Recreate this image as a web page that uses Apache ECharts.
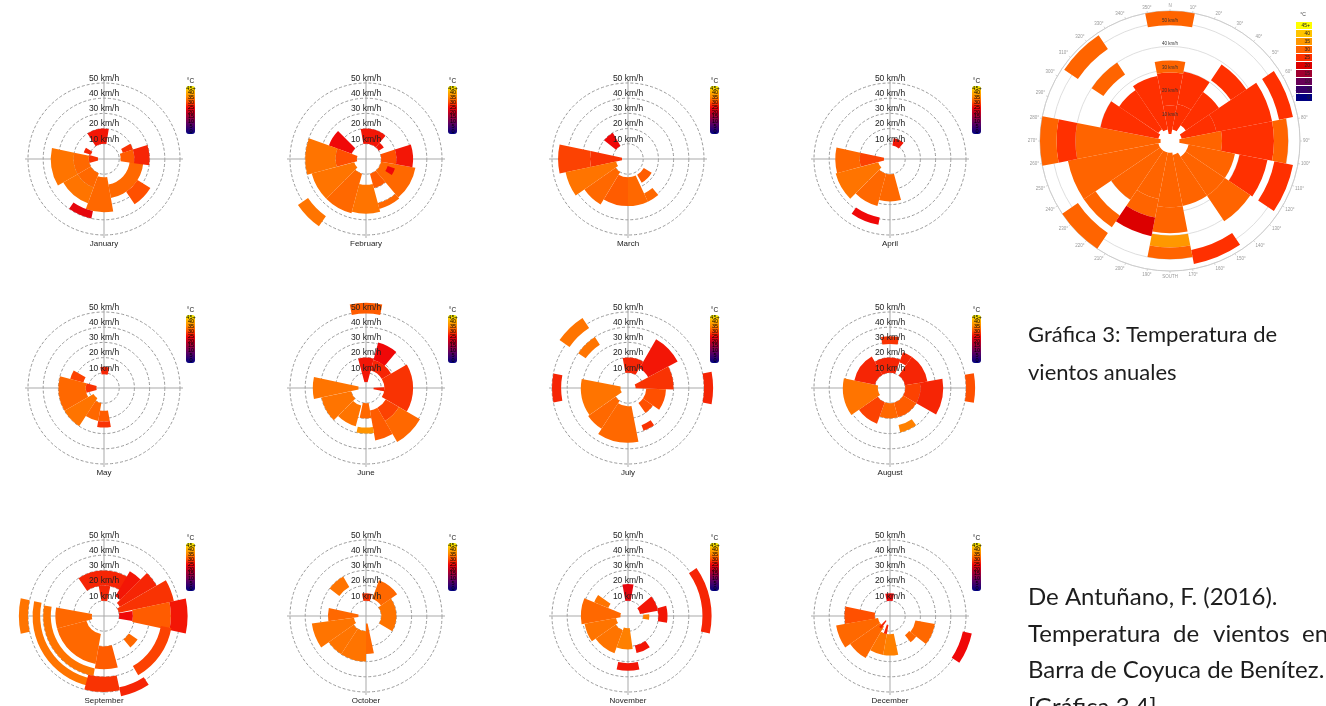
<!DOCTYPE html>
<html lang="es">
<head>
<meta charset="UTF-8">
<title>Temperatura de vientos</title>
<script src="https://cdn.jsdelivr.net/npm/echarts@6.0.0/dist/echarts.min.js"></script>
<style>
  body, html { margin: 0; padding: 0; background: #ffffff; }
  #chart { width: 1326px; height: 706px; }
</style>
</head>
<body>
<div id="chart"></div>
<script>
// each cell: [dirFrom°, dirTo°, speedFrom km/h, speedTo km/h, temperature °C]
const jan = [
  [327, 369, 10, 20, 26], [288, 302, 9, 14, 27], [255, 285, 4, 10, 28],
  [240, 282, 10, 20, 32], [240, 282, 20, 35, 33], [200, 240, 10, 20, 32],
  [200, 240, 20, 31, 33], [170, 200, 12, 35, 32], [95, 170, 17, 26, 32],
  [122, 146, 26, 36, 30], [60, 72, 13, 20, 28], [72, 98, 11, 20, 31],
  [72, 98, 20, 30, 27], [192, 215, 35, 40, 24]
];
const feb = [
  [350, 400, 10, 20, 26], [40, 57, 10, 14, 26], [290, 315, 10, 26, 25],
  [255, 290, 6, 20, 30], [255, 290, 20, 40, 33], [225, 255, 8, 37, 33],
  [195, 225, 10, 37, 32], [165, 195, 17, 36, 33], [140, 165, 10, 20, 31],
  [140, 165, 30, 34, 32], [100, 140, 10, 33, 32], [108, 122, 15, 20, 25],
  [72, 100, 10, 20, 30], [72, 100, 20, 31, 26], [215, 236, 46, 54, 33]
];
const mar = [
  [308, 330, 10, 20, 25], [258, 282, 4, 25, 28], [258, 282, 25, 46, 29],
  [235, 258, 8, 42, 33], [211, 235, 10, 35, 32], [180, 211, 12, 31, 31],
  [155, 180, 12, 31, 32], [140, 155, 25, 31, 32], [120, 150, 12, 18, 31]
];
const apr = [
  [10, 40, 9, 14, 26], [255, 282, 4, 20, 29], [255, 282, 20, 36, 32],
  [225, 255, 8, 37, 33], [195, 225, 10, 32, 32], [165, 195, 10, 28, 32],
  [190, 215, 39, 44, 25]
];
const may = [
  [350, 375, 9, 14, 27], [285, 300, 14, 23, 29], [255, 285, 5, 12, 28],
  [240, 285, 12, 30, 32], [213, 240, 8, 30, 33], [190, 213, 10, 22, 32],
  [170, 190, 15, 22, 31], [170, 190, 22, 26, 28]
];
const jun = [
  [349, 371, 49, 56, 31], [15, 40, 19, 31, 25], [345, 375, 4, 20, 26],
  [15, 60, 12, 19, 27], [60, 120, 12, 31, 28], [88, 100, 5, 12, 27],
  [120, 150, 15, 25, 29], [120, 150, 25, 41, 32], [150, 170, 15, 35, 31],
  [170, 192, 26, 30, 36], [170, 192, 10, 20, 32], [258, 282, 5, 35, 33],
  [225, 258, 10, 30, 33], [195, 225, 12, 26, 33]
];
const jul = [
  [305, 327, 47, 55, 33], [305, 327, 34, 40, 33], [259, 281, 44, 50, 27],
  [79, 101, 50, 56, 27], [350, 390, 10, 20, 27], [30, 62, 15, 37, 26],
  [62, 92, 5, 30, 28], [235, 281, 5, 31, 33], [213, 235, 10, 32, 32],
  [169, 213, 12, 36, 32], [92, 125, 12, 25, 30], [125, 145, 12, 20, 30],
  [145, 160, 26, 30, 28]
];
const aug = [
  [350, 370, 29, 34, 28], [330, 380, 10, 20, 27], [20, 35, 18, 25, 27],
  [35, 80, 10, 25, 27], [80, 120, 10, 20, 29], [80, 120, 20, 35, 27],
  [80, 100, 50, 56, 30], [120, 165, 10, 20, 31], [145, 167, 25, 30, 34],
  [165, 200, 10, 20, 32], [200, 235, 10, 25, 29], [235, 282, 8, 31, 33],
  [282, 330, 10, 24, 27]
];
const sep = [
  [326, 392, 20, 30, 27], [350, 372, 10, 20, 27], [30, 45, 15, 34, 26],
  [45, 60, 12, 40, 27], [60, 78, 10, 47, 28], [78, 102, 19, 44, 31],
  [78, 102, 44, 55, 26], [80, 100, 10, 19, 25], [100, 150, 38, 45, 29],
  [125, 140, 20, 27, 32], [255, 280, 8, 32, 32], [190, 255, 12, 32, 32],
  [165, 190, 20, 35, 31], [190, 280, 35, 40, 33], [175, 282, 42, 47, 33],
  [258, 282, 50, 56, 33], [168, 195, 40, 50, 28], [147, 168, 48, 54, 27]
];
const oct = [
  [350, 375, 10, 15, 28], [307, 330, 22, 30, 33], [20, 55, 12, 25, 32],
  [55, 120, 10, 20, 33], [262, 282, 5, 25, 32], [235, 262, 8, 36, 33],
  [213, 235, 10, 30, 33], [180, 213, 10, 30, 33], [168, 180, 5, 25, 32]
];
const nov = [
  [350, 370, 10, 21, 24], [50, 80, 8, 20, 26], [75, 100, 20, 26, 26],
  [85, 100, 10, 14, 34], [55, 102, 49, 55, 27], [145, 167, 20, 25, 26],
  [168, 192, 31, 36, 26], [260, 292, 5, 31, 32], [292, 305, 14, 24, 33],
  [235, 260, 8, 29, 33], [200, 235, 10, 26, 33], [172, 200, 8, 22, 34]
];
const dec = [
  [348, 370, 10, 15, 25], [102, 124, 49, 55, 25], [100, 128, 17, 30, 32],
  [128, 142, 16, 22, 32], [260, 282, 10, 30, 30], [235, 260, 8, 36, 32],
  [210, 235, 8, 32, 32], [190, 210, 12, 26, 33], [168, 190, 12, 26, 34],
  [215, 225, 4, 10, 27], [190, 200, 6, 12, 27]
];
const annual = [
  [349, 371, 3, 15, 28], [349, 371, 15, 29, 27], [349, 371, 29, 34, 31], [349, 371, 49, 55, 31],
  [11, 34, 5, 16, 28], [11, 34, 16, 30, 27],
  [34, 56, 8, 25, 27], [34, 56, 31, 39, 26],
  [56, 79, 5, 20, 28], [56, 79, 20, 44, 27], [56, 79, 47, 53, 26],
  [79, 101, 4, 22, 31], [79, 101, 22, 44, 28], [79, 101, 44, 50, 33],
  [101, 124, 8, 28, 31], [101, 124, 30, 42, 27], [101, 124, 45, 53, 26],
  [124, 146, 8, 28, 31], [124, 146, 28, 41, 34],
  [146, 169, 6, 28, 31], [146, 169, 47, 53, 27],
  [169, 191, 5, 28, 31], [169, 191, 28, 39, 31], [169, 191, 40, 45, 35], [169, 191, 45, 50, 31],
  [191, 214, 5, 25, 31], [191, 214, 25, 33, 31], [191, 214, 33, 41, 22],
  [214, 236, 5, 30, 31], [214, 236, 38, 44, 33], [214, 236, 47, 55, 31],
  [236, 259, 5, 44, 31],
  [259, 281, 4, 40, 31], [259, 281, 40, 48, 27], [259, 281, 48, 55, 31],
  [281, 304, 5, 30, 29],
  [304, 326, 6, 26, 27], [304, 326, 34, 40, 31], [304, 326, 47, 54, 31],
  [326, 349, 5, 28, 27]
];

const months = ['January', 'February', 'March', 'April', 'May', 'June',
  'July', 'August', 'September', 'October', 'November', 'December'];
const monthData = [jan, feb, mar, apr, may, jun, jul, aug, sep, oct, nov, dec];
const tempColors = ['#000080', '#300070', '#600060', '#900040', '#c00020',
  '#f00808', '#ff5000', '#ff8c00', '#ffb400', '#ffff00'];
const tempLabels = ['45+', '40', '35', '30', '25', '20', '15', '10', '5', '0'];
const tempPieces = [
  { gte: 45, label: '45+', color: '#ffff00' },
  { gte: 40, lt: 45, label: '40', color: '#ffc400' },
  { gte: 35, lt: 40, label: '35', color: '#ff9800' },
  { gte: 30, lt: 35, label: '30', color: '#ff6400' },
  { gte: 25, lt: 30, label: '25', color: '#ff3000' },
  { gte: 20, lt: 25, label: '20', color: '#dc0000' },
  { gte: 15, lt: 20, label: '15', color: '#a00030' },
  { gte: 10, lt: 15, label: '10', color: '#680058' },
  { gte: 5, lt: 10, label: '5', color: '#380068' },
  { lt: 5, label: '0', color: '#000080' }
];
const captionLines = ['Gráfica 3: Temperatura de', 'vientos anuales'];
const sourceLines = ['De Antuñano, F. (2016).', '', 'Barra de Coyuca de Benítez.', '[Gráfica 3.4]'];
const justifiedWords = ['Temperatura', 'de', 'vientos', 'en'];

const colX = [104, 366, 628, 890];
const rowY = [159, 388, 616];
const FONT = '"Liberation Sans", Arial, sans-serif';

function renderCell(params, api) {
  const cs = params.coordSys;
  const a0 = api.value(0), a1 = api.value(1);
  const s0 = api.value(2), s1 = api.value(3);
  const pIn = api.coord([s0, a0]);
  const pA = api.coord([s1, a0]);
  const pB = api.coord([s1, a1]);
  const rIn = Math.hypot(pIn[0] - cs.cx, pIn[1] - cs.cy);
  const rOut = Math.hypot(pA[0] - cs.cx, pA[1] - cs.cy);
  const start = Math.atan2(pA[1] - cs.cy, pA[0] - cs.cx);
  let end = Math.atan2(pB[1] - cs.cy, pB[0] - cs.cx);
  if (end <= start) end += Math.PI * 2;
  return {
    type: 'sector',
    shape: { cx: cs.cx, cy: cs.cy, r0: rIn, r: rOut, startAngle: start, endAngle: end, clockwise: true },
    style: { fill: api.visual('color') }
  };
}

const polar = [], angleAxis = [], radiusAxis = [], series = [], visualMap = [], graphic = [];

months.forEach((name, i) => {
  const cx = colX[i % 4], cy = rowY[Math.floor(i / 4)];
  const p = polar.length;
  // frame: cross lines and speed labels
  polar.push({ center: [cx, cy], radius: 79 });
  angleAxis.push({
    polarIndex: p, type: 'value', min: 0, max: 360, interval: 90, startAngle: 90, z: 1,
    axisLine: { show: false }, axisTick: { show: false }, axisLabel: { show: false },
    splitLine: { show: true, lineStyle: { color: '#a9a9a9', width: 1 } }
  });
  radiusAxis.push({
    polarIndex: p, type: 'value', min: 0, max: 52, interval: 10, z: 10,
    axisLine: { show: false }, axisTick: { show: false }, splitLine: { show: false },
    axisLabel: {
      margin: 0, align: 'center', verticalAlign: 'bottom',
      fontSize: 8.5, fontFamily: FONT, color: '#222',
      formatter: v => (v > 0 && v <= 50 ? v + ' km/h' : '')
    }
  });
  // data: dashed speed rings and cells
  polar.push({ center: [cx, cy], radius: 76 });
  angleAxis.push({ polarIndex: p + 1, type: 'value', min: 0, max: 360, startAngle: 90, show: false });
  radiusAxis.push({
    polarIndex: p + 1, type: 'value', min: 0, max: 50, interval: 10, z: 0,
    axisLine: { show: false }, axisTick: { show: false }, axisLabel: { show: false },
    splitLine: { show: true, lineStyle: { color: '#9a9a9a', width: 1, type: [3, 2] } }
  });
  series.push({
    type: 'custom', name: name, coordinateSystem: 'polar', polarIndex: p + 1,
    dimensions: ['from', 'to', 'vmin', 'vmax', 'temp'],
    encode: { angle: [0, 1], radius: [2, 3] },
    renderItem: renderCell, data: monthData[i], z: 2, silent: true
  });
  visualMap.push({
    type: 'continuous', seriesIndex: i, dimension: 4, min: 0, max: 45,
    calculable: false, left: cx + 82, top: cy - 81, padding: 0,
    itemWidth: 9, itemHeight: 48, text: ['°C', ''], textGap: 1,
    textStyle: { fontSize: 6.5, color: '#111', fontFamily: FONT },
    inRange: { color: tempColors }
  });
  tempLabels.forEach((t, k) => graphic.push({
    type: 'text', x: cx + 87, y: cy - 71 + k * 4.8, silent: true, z: 20,
    style: { text: t, font: '5.5px ' + FONT, fill: '#000', align: 'center', verticalAlign: 'middle' }
  }));
  graphic.push({
    type: 'text', x: cx, y: cy + 85, silent: true,
    style: { text: name, font: '8px ' + FONT, fill: '#222', align: 'center', verticalAlign: 'middle' }
  });
});

// annual chart
const bp = polar.length;
polar.push({ center: [1170, 141], radius: 130 });
angleAxis.push({
  polarIndex: bp, type: 'value', min: 0, max: 360, interval: 10, startAngle: 90, z: 0,
  axisLine: { show: true, lineStyle: { color: '#c8c8c8', width: 0.8 } },
  axisTick: { show: true, length: 2, lineStyle: { color: '#bdbdbd', width: 0.6 } },
  axisLabel: {
    fontSize: 4.5, color: '#9a9a9a', margin: 3, fontFamily: FONT,
    formatter: v => (v === 0 ? 'N' : v === 180 ? 'SOUTH' : v === 360 ? '' : v + '°')
  },
  splitLine: { show: false }
});
radiusAxis.push({
  polarIndex: bp, type: 'value', min: 0, max: 55, interval: 10, z: 0,
  axisLine: { show: false }, axisTick: { show: false }, axisLabel: { show: false },
  splitLine: { show: true, lineStyle: { color: '#d6d6d6', width: 0.8 } }
});
polar.push({ center: [1170, 141], radius: 130 });
angleAxis.push({ polarIndex: bp + 1, type: 'value', min: 0, max: 360, startAngle: 90, show: false });
radiusAxis.push({
  polarIndex: bp + 1, type: 'value', min: 0, max: 55, interval: 10, z: 10,
  axisLine: { show: false }, axisTick: { show: false }, splitLine: { show: false },
  axisLabel: {
    margin: 0, align: 'center', verticalAlign: 'bottom', fontSize: 4.5, color: '#333', fontFamily: FONT,
    formatter: v => (v > 0 && v <= 50 ? v + ' km/h' : '')
  }
});
series.push({
  type: 'custom', name: 'Anual', coordinateSystem: 'polar', polarIndex: bp,
  dimensions: ['from', 'to', 'vmin', 'vmax', 'temp'],
  encode: { angle: [0, 1], radius: [2, 3] },
  renderItem: renderCell, data: annual, z: 2, silent: true
});
visualMap.push({
  type: 'piecewise', seriesIndex: 12, dimension: 4, pieces: tempPieces,
  left: 1296, top: 22, padding: 0, itemWidth: 16, itemHeight: 7, itemGap: 1,
  itemSymbol: 'rect', textGap: -14, showLabel: true,
  textStyle: { fontSize: 5, color: '#222', fontFamily: FONT }
});
graphic.push({
  type: 'text', x: 1303, y: 15, silent: true,
  style: { text: '°C', font: '5px ' + FONT, fill: '#444', align: 'center', verticalAlign: 'middle' }
});

// caption and source text
const captionFont = '22px Lato, "Open Sans", sans-serif';
const sourceFont = '24px Lato, "Open Sans", sans-serif';
[335, 373].forEach((y, k) => graphic.push({
  type: 'text', x: 1028, y: y, silent: true,
  style: { text: captionLines[k], font: captionFont, fill: '#1d1d1d', verticalAlign: 'middle' }
}));
[597, 634, 670, 707].forEach((y, k) => {
  if (!sourceLines[k]) return;
  graphic.push({
    type: 'text', x: 1028, y: y, silent: true,
    style: { text: sourceLines[k], font: sourceFont, fill: '#1d1d1d', verticalAlign: 'middle' }
  });
});
// justified second line of the source
[1028, 1173, 1213, 1302].forEach((x, k) => graphic.push({
  type: 'text', x: x, y: 634, silent: true,
  style: { text: justifiedWords[k], font: sourceFont, fill: '#1d1d1d', verticalAlign: 'middle' }
}));

const chart = echarts.init(document.getElementById('chart'));
chart.setOption({
  backgroundColor: '#ffffff',
  animation: false,
  polar, angleAxis, radiusAxis, series, visualMap, graphic
});
</script>
</body>
</html>
